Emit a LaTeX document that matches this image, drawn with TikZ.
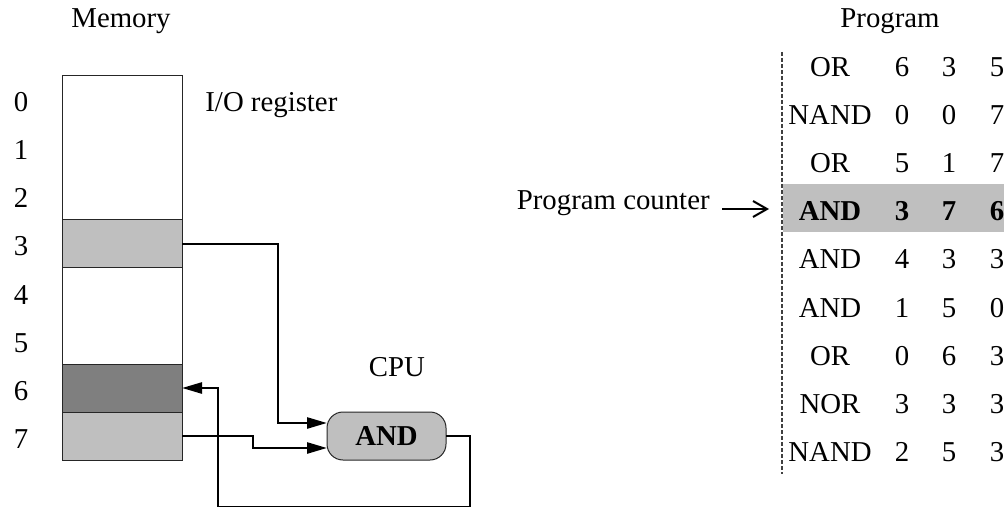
\documentclass[tikz,border=0pt]{standalone}
\usepackage{fontspec}
\setmainfont{Liberation Serif}
\usetikzlibrary{arrows.meta}
\definecolor{lightg}{RGB}{191,191,191}
\definecolor{darkg}{RGB}{127,127,127}
\begin{document}
\begin{tikzpicture}[x=0.5pt,y=-0.5pt,
  font=\fontsize{14.4}{16}\selectfont,
  cell/.style={line width=0.5pt, minimum width=60pt, minimum height=24pt, inner sep=0pt, outer sep=0pt},
  frame/.style={draw=black!85, line width=0.5pt, minimum width=60pt, minimum height=192pt, inner sep=0pt, outer sep=0pt},
  txt/.style={inner sep=0pt, anchor=base},
  conn/.style={line width=1.25pt, -{Triangle[length=10pt,width=5.5pt]}},
  cpubox/.style={draw=black!85, line width=0.5pt, fill=lightg, rounded corners=8pt, minimum width=59.5pt, minimum height=24pt, inner sep=0pt, outer sep=0pt, font=\bfseries\fontsize{14.4}{16}\selectfont},
  hlrow/.style={fill=lightg, minimum width=115pt, minimum height=24pt, inner sep=0pt, outer sep=0pt, anchor=north west},
  pcarrow/.style={line width=1pt, -{Straight Barb[length=7pt,width=8pt]}}
]
\useasboundingbox (0,0) rectangle (1004,507);
\clip (0,0) rectangle (1004,507);

% titles
\node[txt] (memtitle) at (121,28) {Memory};
\node[txt] (progtitle) at (890,28) {Program};

% memory cells
\node[frame] (mem) at (122,268) {};
\foreach \i in {0,1,2,4,5}{
  \node[cell] (m\i) at (122,{100+48*\i}) {};
}
\foreach \i/\c in {3/lightg,6/darkg,7/lightg}{
  \node[cell, draw=black!85, fill=\c] (m\i) at (122,{100+48*\i}) {};
}
\foreach \i in {0,...,7}{
  \node[txt] (ml\i) at (21,{112+48*\i}) {\i};
}
\node[txt, anchor=base west] (io) at (205,112) {I/O register};

% CPU
\node[txt] (cputitle) at (397,376) {CPU};
\node[cpubox] (cpu) at (386.5,436) {AND};

% connectors
\draw[conn] (m3.east) -| (278,423) -- ([yshift=6.5pt]cpu.west);
\draw[conn] (m7.east) -- (253,436) |- ([yshift=-6pt]cpu.west);
\draw[conn] (cpu.east) -| (470,507.6) -| (218,388) -- (m6.east);

% program
\node[hlrow] (hl) at (783,184) {};
\draw[draw=black!75, line width=0.6pt, dash pattern=on 2pt off 1pt] (782,52) -- (782,474);

\foreach \r/\op/\a/\b/\cc in {0/OR/6/3/5,1/NAND/0/0/7,2/OR/5/1/7,4/AND/4/3/3,5/AND/1/5/0,6/OR/0/6/3,7/NOR/3/3/3,8/NAND/2/5/3}{
  \node[txt] (op\r) at (830,{77+48*\r}) {\op};
  \node[txt] (a\r) at (902,{77+48*\r}) {\a};
  \node[txt] (b\r) at (949,{77+48*\r}) {\b};
  \node[txt] (c\r) at (997,{77+48*\r}) {\cc};
}
\begin{scope}[font=\bfseries\fontsize{14.4}{16}\selectfont]
  \node[txt] (op3) at (830,221) {AND};
  \node[txt] (a3) at (902,221) {3};
  \node[txt] (b3) at (949,221) {7};
  \node[txt] (c3) at (997,221) {6};
\end{scope}

% program counter
\node[txt, anchor=base east] (pctext) at (710,210) {Program counter};
\coordinate (pcstart) at (722,209);
\coordinate (pctip) at (769,209);
\draw[pcarrow] (pcstart) -- (pctip);
\end{tikzpicture}
\end{document}
